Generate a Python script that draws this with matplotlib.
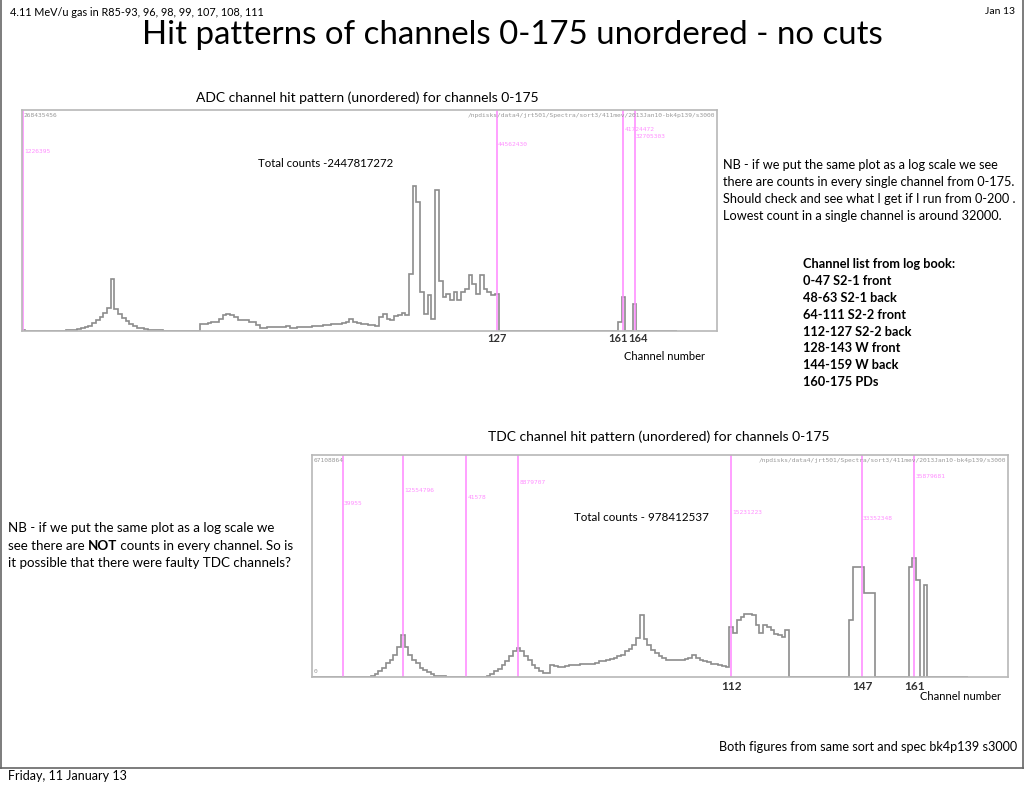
import numpy as np
import matplotlib
matplotlib.use('Agg')
from matplotlib import pyplot as plt
from matplotlib import transforms
from matplotlib.lines import Line2D

W, H = 1024, 788

# ADC counts per channel, in millions
adc_counts_M = [
    1.226395, 0.032, 0.032, 0.032, 0.032, 0.032, 0.032, 0.032,
    0.032, 0.032, 0.032, 0.36, 0.61, 0.97, 1.46, 2.43,
    3.64, 4.86, 6.07, 9.72, 13.4, 17.0, 21.9, 27.9,
    63.2, 26.7, 20.7, 15.8, 12.1, 8.5, 6.1, 4.25,
    3.04, 2.43, 1.58, 1.09, 0.73, 0.61, 0.49, 0.46,
    0.44, 0.42, 0.40, 0.39, 0.38, 0.37, 0.36, 0.35,
    8.1, 8.4, 9.7, 10.9, 11.5, 14.9, 19.4, 21.0,
    20.0, 17.0, 13.4, 13.0, 12.8, 11.3, 10.9, 6.9,
    4.0, 4.1, 4.4, 4.6, 4.9, 5.1, 5.3, 6.4,
    4.0, 4.25, 4.5, 4.7, 5.0, 5.3, 5.7, 6.1,
    6.4, 6.9, 7.3, 7.9, 8.5, 9.1, 9.7, 10.9,
    14.6, 10.9, 9.7, 8.5, 7.9, 7.3, 6.7, 6.1,
    17.0, 20.7, 14.6, 13.4, 18.2, 19.1, 21.3, 19.4,
    69.2, 176.1, 156.7, 47.4, 20.7, 43.7, 14.6, 171.3,
    60.7, 41.3, 44.9, 37.7, 47.4, 37.7, 47.4, 51.0,
    68.0, 57.1, 44.9, 68.0, 51.0, 47.4, 43.7, 44.562430,
] + [0.032] * 32 + [
    10.9, 41.724472, 0.032, 0.032, 32.705303, 0.032, 0.032, 0.032,
] + [0.032] * 8

# TDC counts per channel, in millions
tdc_counts_M = [0.0] * 8 + [
    0.039955, 0, 0, 0, 0, 0, 0, 0.15,
    0.45, 1.0, 1.72, 2.72, 4.23, 5.23, 6.74, 8.95,
    12.554796, 8.95, 6.65, 5.14, 4.23, 2.72, 2.0, 1.39,
    0.79, 0.45, 0.30, 0.18, 0.09, 0, 0, 0,
    0, 0.041578, 0, 0, 0, 0, 0, 0.30,
    1.0, 1.72, 2.42, 3.54, 4.75, 6.44, 7.74, 8.879707,
    7.74, 6.23, 5.02, 3.72, 2.72, 1.90, 1.36, 1.21,
    3.72, 3.33, 3.17, 3.17, 3.33, 3.48, 3.63, 3.72,
    3.78, 3.87, 3.93, 4.08, 4.38, 4.69, 4.84, 5.14,
    5.59, 5.89, 6.26, 6.65, 7.74, 8.46, 9.67, 11.8,
    18.8, 11.5, 9.76, 8.25, 7.26, 6.35, 5.74, 5.23,
    5.02, 5.02, 5.02, 5.14, 5.59, 5.74, 6.74, 5.74,
    5.14, 4.72, 4.53, 4.02, 3.87, 3.63, 3.20, 3.02,
    15.231223, 13.3, 17.2, 18.1, 19.0, 18.9, 18.7, 15.7,
    13.3, 15.7, 15.1, 14.2, 13.0, 12.7, 12.1, 14.2,
] + [0.0] * 16 + [
    17.2, 33.4, 33.4, 33.352348, 25.4, 25.4, 25.4, 0,
] + [0.0] * 8 + [
    33.3, 35.879681, 29.3, 0, 27.7, 0, 0, 0,
] + [0.0] * 8

adc_ymax = 268435456
tdc_ymax = 67108864

adc_markers = [0, 127, 161, 164]
adc_marker_y = [0.81, 0.846, 0.91, 0.878]
tdc_markers = [8, 24, 41, 55, 112, 147, 161]
tdc_marker_y = [0.78, 0.842, 0.81, 0.874, 0.743, 0.712, 0.905]

adc_ticks = [127, 161, 164]
tdc_ticks = [112, 147, 161]

spec_path = '/npdisks/data4/jrt501/Spectra/sort3/411mev/2013Jan10-bk4p139/s3000'

adc_note = [
    'NB - if we put the same plot as a log scale we see',
    'there are counts in every single channel from 0-175.',
    'Should check and see what I get if I run from 0-200 .',
    'Lowest count in a single channel is around 32000.',
]
channel_list = [
    'Channel list from log book:',
    '0-47 S2-1 front',
    '48-63 S2-1 back',
    '64-111 S2-2 front',
    '112-127 S2-2 back',
    '128-143 W front',
    '144-159 W back',
    '160-175 PDs',
]

plt.rcParams['font.family'] = ['Lato', 'DejaVu Sans']
MAGENTA = '#ff90ff'
HIST = '#8c8c8c'
FRAME = '#b8b8b8'


def fxy(x, y):
    return x / W, 1 - y / H


def spectrum(fig, rect, counts_M, ymax, markers, marker_y):
    ax = fig.add_axes(rect)
    counts = np.array(counts_M) * 1e6
    edges = np.arange(len(counts) + 1) - 0.5
    ax.stairs(counts, edges, color=HIST, lw=1.2)
    ax.set_xlim(-0.3, 186.1)
    ax.set_ylim(0, ymax)
    ax.set_xticks([])
    ax.set_yticks([])
    for s in ax.spines.values():
        s.set_color(FRAME)
        s.set_linewidth(1.2)
    trans = transforms.blended_transform_factory(ax.transData, ax.transAxes)
    for ch, yy in zip(markers, marker_y):
        ax.axvline(ch, color=MAGENTA, lw=1.2, zorder=1)
        ax.text(ch + 0.3, yy, str(int(round(counts[ch]))), transform=trans,
                color=MAGENTA, fontsize=4.5, family='DejaVu Sans Mono',
                va='center', ha='left')
    ax.text(0.002, 0.975, str(ymax), transform=ax.transAxes, color='#999999',
            fontsize=4.5, family='DejaVu Sans Mono', va='center', ha='left')
    ax.text(0.997, 0.975, spec_path, transform=ax.transAxes, color='#999999',
            fontsize=4.5, family='DejaVu Sans Mono', va='center', ha='right')
    return ax, trans


fig = plt.figure(figsize=(W / 100, H / 100), dpi=100)

# slide frame
fig.add_artist(Line2D([0.5 / W, 0.5 / W], [1, 1 - 768 / H], color='#666666', lw=1.2))
fig.add_artist(Line2D([1022.5 / W, 1022.5 / W], [1, 1 - 768 / H], color='#666666', lw=1.2))
fig.add_artist(Line2D([0, 1], [1 - 768 / H, 1 - 768 / H], color='#666666', lw=1.2))

fig.text(*fxy(10, 12), '4.11 MeV/u gas in R85-93, 96, 98, 99, 107, 108, 111',
         fontsize=7.8, va='center', ha='left')
fig.text(*fxy(1015, 12), 'Jan 13', fontsize=7.5, va='center', ha='right')
fig.text(*fxy(512, 35), 'Hit patterns of channels 0-175 unordered - no cuts',
         fontsize=23.8, va='center', ha='center')
fig.text(*fxy(8, 776), 'Friday, 11 January 13', fontsize=9, va='center', ha='left')

# ADC spectrum
fig.text(*fxy(367, 98), 'ADC channel hit pattern (unordered) for channels 0-175',
         fontsize=10, va='center', ha='center')
ax1, tr1 = spectrum(fig, [22 / W, 1 - 331 / H, 695 / W, 221 / H],
                    adc_counts_M, adc_ymax, adc_markers, adc_marker_y)
ax1.text(0.339, 0.76, 'Total counts -2447817272', transform=ax1.transAxes,
         fontsize=8.2, va='center', ha='left')
for ch, dx in zip(adc_ticks, [0, -1.5, 0.9]):
    ax1.text(ch + dx, -0.035, str(ch), transform=tr1, fontsize=8,
             color='#333333', weight='bold', va='center', ha='center')
fig.text(*fxy(665, 356), 'Channel number', fontsize=8, va='center', ha='center')

# TDC spectrum
fig.text(*fxy(659, 437), 'TDC channel hit pattern (unordered) for channels 0-175',
         fontsize=10, va='center', ha='center')
ax2, tr2 = spectrum(fig, [312 / W, 1 - 677 / H, 696 / W, 222 / H],
                    tdc_counts_M, tdc_ymax, tdc_markers, tdc_marker_y)
ax2.text(0.002, 0.012, '0', transform=ax2.transAxes, color='#999999',
         fontsize=4.5, family='DejaVu Sans Mono', va='bottom', ha='left')
ax2.text(0.377, 0.72, 'Total counts - 978412537', transform=ax2.transAxes,
         fontsize=8.4, va='center', ha='left')
for ch in tdc_ticks:
    ax2.text(ch, -0.042, str(ch), transform=tr2, fontsize=8.5,
             color='#333333', weight='bold', va='center', ha='center')
fig.text(*fxy(960, 697), 'Channel number', fontsize=8, va='center', ha='center')

# notes
for i, line in enumerate(adc_note):
    fig.text(*fxy(723, 165 + 17 * i), line, fontsize=9.2, va='center', ha='left')
for i, line in enumerate(channel_list):
    fig.text(*fxy(803, 264 + 16.9 * i), line, fontsize=9.2, weight='bold',
             va='center', ha='left')

renderer = fig.canvas.get_renderer()
fig.text(*fxy(8, 528), 'NB - if we put the same plot as a log scale we',
         fontsize=9.6, va='center', ha='left')
x0 = 8 / W
for piece, w in [('see there are ', 'normal'), ('NOT', 'bold'),
                 (' counts in every channel. So is', 'normal')]:
    t = fig.text(x0, 1 - 546 / H, piece, fontsize=9.6, weight=w, va='center', ha='left')
    bb = t.get_window_extent(renderer)
    x0 = bb.x1 / W
fig.text(*fxy(8, 563), 'it possible that there were faulty TDC channels?',
         fontsize=9.6, va='center', ha='left')

fig.text(*fxy(1017, 747), 'Both figures from same sort and spec bk4p139 s3000',
         fontsize=9.1, va='center', ha='right')

plt.savefig('out.png', dpi=100)
plt.close()
